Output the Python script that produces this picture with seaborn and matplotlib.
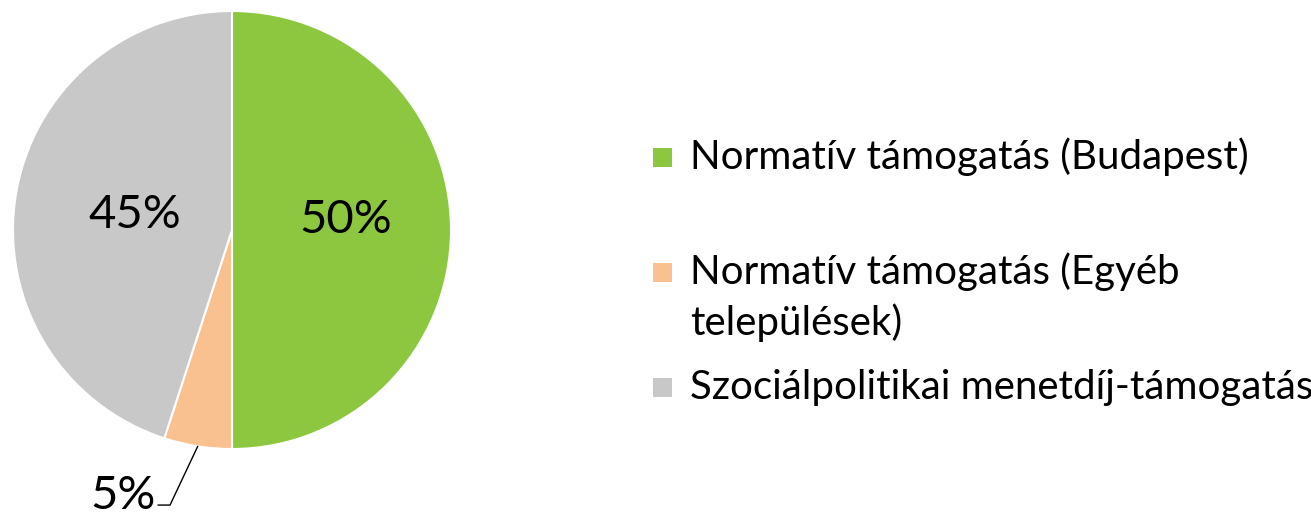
import matplotlib
matplotlib.use("Agg")
import matplotlib.pyplot as plt
import seaborn as sns
import numpy as np
from matplotlib.patches import Rectangle

categories = ["Normatív támogatás (Budapest)",
              "Normatív támogatás (Egyéb\ntelepülések)",
              "Szociálpolitikai menetdíj-támogatás"]
values = [50, 5, 45]
pct_labels = ["50%", "5%", "45%"]
colors = ["#8DC73F", "#F9C18F", "#C8C8C8"]

sns.set_theme(style="white")
plt.rcParams['font.family'] = ['Lato', 'DejaVu Sans']

W, H = 1311, 512
fig = plt.figure(figsize=(W / 100, H / 100), dpi=100)
cx, cy, r = 232, 230, 219
ax = fig.add_axes([(cx - r) / W, (H - cy - r) / H, 2 * r / W, 2 * r / H])

wedges, _ = ax.pie(values, colors=colors, startangle=90, counterclock=False,
                   radius=1.0, wedgeprops=dict(edgecolor="white", linewidth=1.5))
ax.set_xlim(-1, 1)
ax.set_ylim(-1, 1)
ax.set_aspect("equal")
ax.axis("off")

# percentage labels
dists = [0.52, None, 0.45]
dy = [0.045, 0.0, 0.0]
for w, lab, d, o in zip(wedges, pct_labels, dists, dy):
    mid = np.deg2rad((w.theta1 + w.theta2) / 2)
    if d is not None:
        ax.text(d * np.cos(mid), d * np.sin(mid) + o, lab, ha="center", va="center",
                fontsize=34, color="black")
    else:
        x0, y0 = np.cos(mid), np.sin(mid)
        x1, y1 = -0.283, -1.256
        x2 = -0.338
        ax.plot([x0, x1, x2], [y0, y1, y1], color="black", lw=1.0, clip_on=False)
        ax.text(x2 - 0.01, y1 + 0.04, lab, ha="right", va="center", fontsize=34,
                color="black")

# legend
rows = [157, 272, 387]
sq = 19
for lab, col, yc in zip(categories, colors, rows):
    fig.patches.append(Rectangle((653 / W, (H - yc - sq / 2) / H), sq / W, sq / H,
                                 transform=fig.transFigure, facecolor=col,
                                 edgecolor="none"))
    for i, line in enumerate(lab.split("\n")):
        fig.text(690 / W, (H - yc - i * 51) / H, line, ha="left", va="center",
                 fontsize=29, color="black")

fig.savefig("out.png", dpi=100)
